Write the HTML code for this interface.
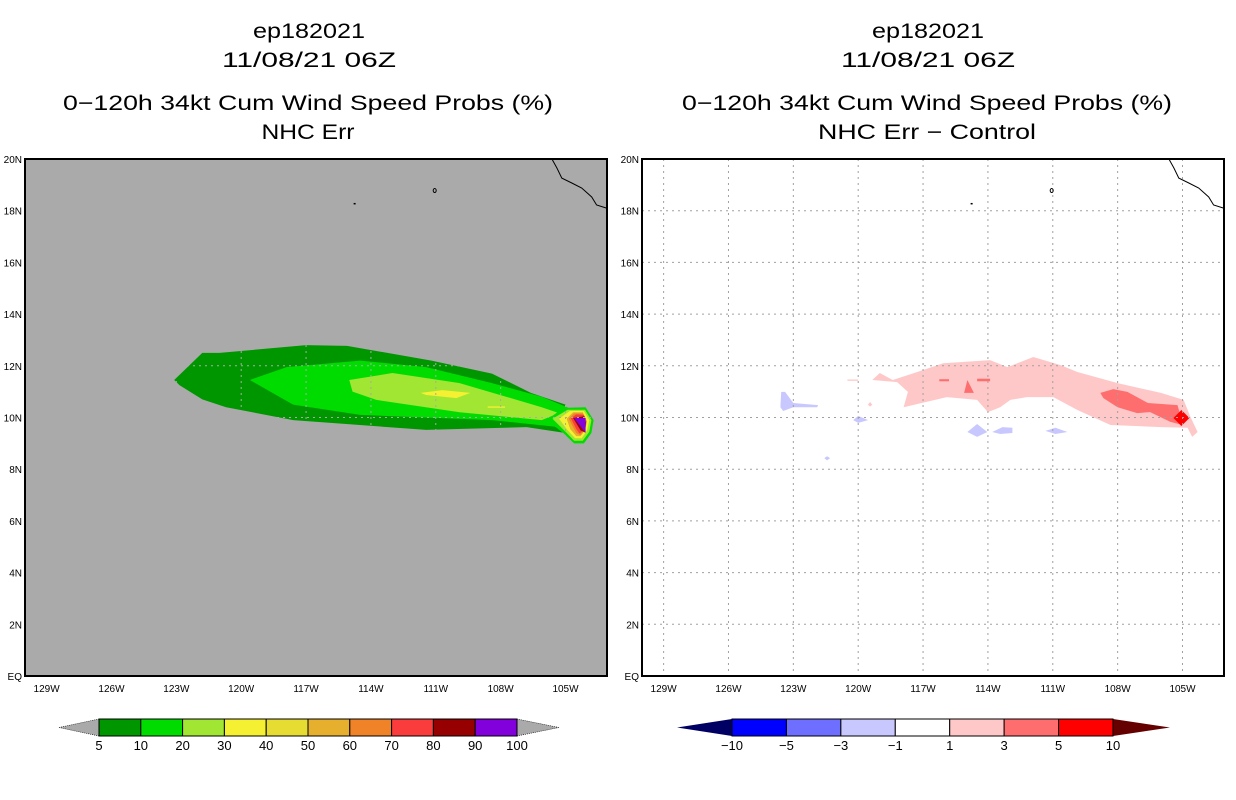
<!DOCTYPE html>
<html><head><meta charset="utf-8"><style>
html,body{margin:0;padding:0;background:#fff;}
svg{display:block;font-family:"Liberation Sans",sans-serif;}
</style></head><body>
<svg id="fig" width="1236" height="800" viewBox="0 0 1236 800" xmlns="http://www.w3.org/2000/svg">
<g id="titles" font-size="21" fill="#000" text-anchor="middle">
 <text x="309" y="38" textLength="112" lengthAdjust="spacingAndGlyphs">ep182021</text>
 <text x="309" y="67" textLength="174" lengthAdjust="spacingAndGlyphs">11/08/21 06Z</text>
 <text x="308" y="110" textLength="490" lengthAdjust="spacingAndGlyphs">0−120h 34kt Cum Wind Speed Probs (%)</text>
 <text x="308" y="139" textLength="93" lengthAdjust="spacingAndGlyphs">NHC Err</text>
 <text x="928" y="38" textLength="112" lengthAdjust="spacingAndGlyphs">ep182021</text>
 <text x="928" y="67" textLength="174" lengthAdjust="spacingAndGlyphs">11/08/21 06Z</text>
 <text x="927" y="110" textLength="490" lengthAdjust="spacingAndGlyphs">0−120h 34kt Cum Wind Speed Probs (%)</text>
 <text x="927" y="139" textLength="218" lengthAdjust="spacingAndGlyphs">NHC Err − Control</text>
</g>
<g id="left"></g>
<g id="right"></g>
<g id="cbars"></g>
</svg>
<script>
// ---- axis data ----
const lonTicks = [-129,-126,-123,-120,-117,-114,-111,-108,-105];
const lonTickLabels = ["129W","126W","123W","120W","117W","114W","111W","108W","105W"];
const latTicks = [0,2,4,6,8,10,12,14,16,18,20];
const latTickLabels = ["EQ","2N","4N","6N","8N","10N","12N","14N","16N","18N","20N"];

// ---- left panel contour polygons [lon,lat] ----
const probLevelColors = ["#009600","#00dc00","#a0e632","#f5f032","#e6dc32","#e6af2d","#f08228","#fa3c3c","#960000","#8200dc"];
const probContours = [
 {level:0, pts:[[-123.1,11.45],[-121.8,12.5],[-121.0,12.5],[-117.0,12.8],[-115.1,12.77],[-111.2,12.2],[-108.4,11.7],[-106.6,10.95],[-105.0,10.5],[-105.0,9.4],[-106.8,9.63],[-111.45,9.52],[-117.6,9.9],[-120.7,10.4],[-121.8,10.7],[-122.85,11.25]]},
 {level:1, pts:[[-119.6,11.45],[-117.9,11.95],[-114.5,12.2],[-111.45,11.95],[-108.4,11.33],[-106.1,10.8],[-104.85,10.37],[-105.3,9.63],[-108.4,9.9],[-114.5,10.1],[-117.6,10.5]]},
 {level:2, pts:[[-115.0,11.45],[-113.0,11.72],[-109.9,11.33],[-106.1,10.4],[-105.3,10.17],[-106.1,9.9],[-109.9,10.2],[-113.75,10.68],[-114.85,11.0]]},
 {level:3, pts:[[-111.7,10.95],[-110.7,11.06],[-109.4,10.95],[-110.05,10.75],[-111.45,10.87]]},
 {level:3, pts:[[-108.6,10.43],[-107.8,10.43],[-107.8,10.38],[-108.6,10.38]]},
 {level:1, pts:[[-105.87,9.9],[-105.1,10.37],[-104.07,10.4],[-103.7,9.9],[-103.8,9.4],[-104.15,9.0],[-104.6,9.0],[-105.1,9.4]]},
 {level:2, pts:[[-105.6,9.95],[-104.9,10.3],[-104.1,10.3],[-103.8,9.9],[-103.9,9.45],[-104.2,9.1],[-104.6,9.1],[-105.0,9.45]]},
 {level:3, pts:[[-105.3,9.95],[-104.8,10.25],[-104.15,10.25],[-103.9,9.9],[-104.0,9.5],[-104.25,9.2],[-104.55,9.2],[-104.9,9.5]]},
 {level:5, pts:[[-104.95,9.95],[-104.65,10.2],[-104.2,10.2],[-104.0,9.85],[-104.1,9.5],[-104.3,9.28],[-104.5,9.28],[-104.78,9.55]]},
 {level:6, pts:[[-104.85,9.95],[-104.6,10.16],[-104.2,10.16],[-104.03,9.85],[-104.12,9.5],[-104.32,9.32],[-104.5,9.4]]},
 {level:7, pts:[[-104.75,9.97],[-104.5,10.12],[-104.15,10.1],[-104.05,9.85],[-104.15,9.5],[-104.35,9.38],[-104.5,9.55]]},
 {level:8, pts:[[-104.65,9.98],[-104.12,10.05],[-104.05,9.8],[-104.1,9.42],[-104.3,9.5]]},
 {level:9, pts:[[-104.6,9.98],[-104.07,9.98],[-104.07,9.4]]}
];

// ---- right panel difference polygons [lon,lat] ----
const diffLevelColors = ["#000064","#0000ff","#6e6eff","#c8c8ff","#ffffff","#ffc8c8","#ff6e6e","#ff0000","#640000"];
const diffContours = [
 {level:5, pts:[[-119.35,11.45],[-119.0,11.72],[-118.4,11.45],[-117.27,11.76],[-116.07,12.1],[-113.9,12.22],[-113.1,11.95],[-111.9,12.34],[-110.65,12.03],[-109.86,11.76],[-108.0,11.33],[-106.0,10.95],[-104.95,10.68],[-104.63,10.02],[-104.3,9.44],[-104.55,9.25],[-104.77,9.6],[-106.0,9.63],[-108.33,9.71],[-109.86,10.29],[-110.97,10.79],[-112.2,10.79],[-112.96,10.68],[-113.43,10.4],[-114.0,10.21],[-114.5,10.68],[-115.9,10.79],[-117.9,10.4],[-117.7,10.99],[-118.2,11.37]]},
 {level:5, pts:[[-120.5,11.47],[-120.0,11.47],[-120.0,11.42],[-120.5,11.42]]},
 {level:5, pts:[[-119.55,10.5],[-119.45,10.6],[-119.35,10.5],[-119.45,10.42]]},
 {level:6, pts:[[-108.8,10.95],[-108.2,11.1],[-107.55,10.99],[-106.6,10.56],[-105.23,10.48],[-105.1,10.1],[-105.0,9.71],[-105.56,9.83],[-106.5,10.21],[-107.1,10.17],[-108.0,10.4],[-108.66,10.75]]},
 {level:6, pts:[[-115.1,10.95],[-114.95,11.45],[-114.65,10.95]]},
 {level:6, pts:[[-116.25,11.48],[-115.8,11.48],[-115.8,11.4],[-116.25,11.4]]},
 {level:6, pts:[[-114.5,11.5],[-113.9,11.5],[-113.9,11.4],[-114.5,11.4]]},
 {level:7, pts:[[-105.05,10.29],[-104.68,9.98],[-105.05,9.67],[-105.42,9.98]]},
 {level:3, pts:[[-123.56,10.99],[-123.38,10.99],[-123.0,10.56],[-121.85,10.48],[-121.9,10.4],[-123.0,10.4],[-123.47,10.25],[-123.6,10.4]]},
 {level:3, pts:[[-120.23,9.9],[-120.0,10.06],[-119.54,9.9],[-120.0,9.79]]},
 {level:3, pts:[[-114.95,9.44],[-114.5,9.75],[-114.03,9.44],[-114.5,9.25]]},
 {level:3, pts:[[-113.8,9.44],[-113.33,9.63],[-112.87,9.6],[-112.87,9.4],[-113.43,9.36]]},
 {level:3, pts:[[-111.34,9.48],[-110.88,9.6],[-110.32,9.44],[-110.88,9.36]]},
 {level:3, pts:[[-121.57,8.43],[-121.44,8.5],[-121.3,8.43],[-121.44,8.34]]}
];

// ---- coastline ----
const coastLon = [-105.63,-105.4,-105.17,-104.71,-104.25,-103.79,-103.56,-103.0];
const coastLat = [20.0,19.65,19.26,19.07,18.88,18.53,18.22,18.1];

// ---- colorbar labels ----
const probBarLabels = ["5","10","20","30","40","50","60","70","80","90","100"];
const diffBarLabels = ["−10","−5","−3","−1","1","3","5","10"];

const NS="http://www.w3.org/2000/svg";
function el(tag, attrs, parent){const e=document.createElementNS(NS,tag);for(const k in attrs)e.setAttribute(k,attrs[k]);parent.appendChild(e);return e;}

const PY0=159, PH=517, PW=582, LON0=-130, LAT1=20;
const XS=21.62, YS=25.85;
function makeAxes(x0){return {x:lon=>x0+(lon-LON0)*XS, y:lat=>PY0+(LAT1-lat)*YS};}

function drawPanel(g, x0, bg, contours, colors, prefix, gridColor){
 const ax=makeAxes(x0);
 const bgr=el('rect',{x:x0,y:PY0,width:PW,height:PH,fill:bg},g);
 
 
 contours.forEach((c,i)=>{
  const p=el('polygon',{points:c.pts.map(q=>ax.x(q[0]).toFixed(1)+','+ax.y(q[1]).toFixed(1)).join(' '),fill:colors[c.level]},g);
  
  
 });
 lonTicks.forEach((lon,i)=>{
  const l=el('line',{x1:ax.x(lon),x2:ax.x(lon),y1:PY0,y2:PY0+PH,stroke:gridColor,'stroke-width':1,'stroke-dasharray':'2,4'},g);
  
  
 });
 latTicks.forEach((lat,i)=>{
  if(lat===0||lat===20)return;
  const l=el('line',{x1:x0,x2:x0+PW,y1:ax.y(lat),y2:ax.y(lat),stroke:gridColor,'stroke-width':1,'stroke-dasharray':'2,4'},g);
  
  
 });
 const cl=el('polyline',{points:coastLon.map((lo,i)=>ax.x(Math.min(lo,-103.1)).toFixed(1)+','+ax.y(coastLat[i]).toFixed(1)).join(' '),fill:'none',stroke:'#000','stroke-width':1},g);
 
 
 const is1=el('rect',{x:ax.x(-114.8),y:ax.y(18.3),width:2,height:1.5,fill:'#000'},g);
 
 
 const is2=el('ellipse',{cx:ax.x(-111.05),cy:ax.y(18.78),rx:1.5,ry:2,fill:'none',stroke:'#000','stroke-width':1},g);
 
 
 const fr=el('rect',{x:x0,y:PY0,width:PW,height:PH,fill:'none',stroke:'#000','stroke-width':2},g);
 
 
 lonTicks.forEach((lon,i)=>{
  const t=el('text',{x:ax.x(lon),y:PY0+PH+16,'font-size':10,'text-anchor':'middle',fill:'#000'},g);
  t.textContent=lonTickLabels[i];
  
  
 });
 latTicks.forEach((lat,i)=>{
  const t=el('text',{x:x0-3,y:ax.y(lat)+4,'font-size':10,'text-anchor':'end',fill:'#000'},g);
  t.textContent=latTickLabels[i];
  
  
 });
}
drawPanel(document.getElementById('left'),25,'#aaaaaa',probContours,probLevelColors,'left','#aaaaaa');
drawPanel(document.getElementById('right'),642,'#ffffff',diffContours,diffLevelColors,'right','#a0a0a0');

function drawBar(g, tipL, x0, x1, tipR, fills, tipColors, labels, prefix, dotted){
 const y0=719,y1=736,ym=727.5;
 const n=fills.length, w=(x1-x0)/n;
 const lt=el('polygon',{points:`${tipL},${ym} ${x0},${y0} ${x0},${y1}`,fill:tipColors[0],stroke:'#000','stroke-width':dotted?0.6:0,'stroke-dasharray':dotted?'1,1':''},g);
 
 
 const rt=el('polygon',{points:`${tipR},${ym} ${x1},${y0} ${x1},${y1}`,fill:tipColors[1],stroke:'#000','stroke-width':dotted?0.6:0,'stroke-dasharray':dotted?'1,1':''},g);
 
 
 fills.forEach((c,i)=>{
  const r=el('rect',{x:x0+i*w,y:y0,width:w,height:y1-y0,fill:c,stroke:'#000','stroke-width':1},g);
  
  
 });
 labels.forEach((s,i)=>{
  const t=el('text',{x:x0+i*w,y:y1+14,'font-size':13,'text-anchor':'middle',fill:'#000'},g);
  t.textContent=s;
  
  
 });
}
const cb=document.getElementById('cbars');
drawBar(cb,59,99,517,559,probLevelColors,['#aaaaaa','#aaaaaa'],probBarLabels,'left',true);
drawBar(cb,677,732,1113,1170,diffLevelColors.slice(1,8),['#000064','#640000'],diffBarLabels,'right',false);
</script>
</body></html>
